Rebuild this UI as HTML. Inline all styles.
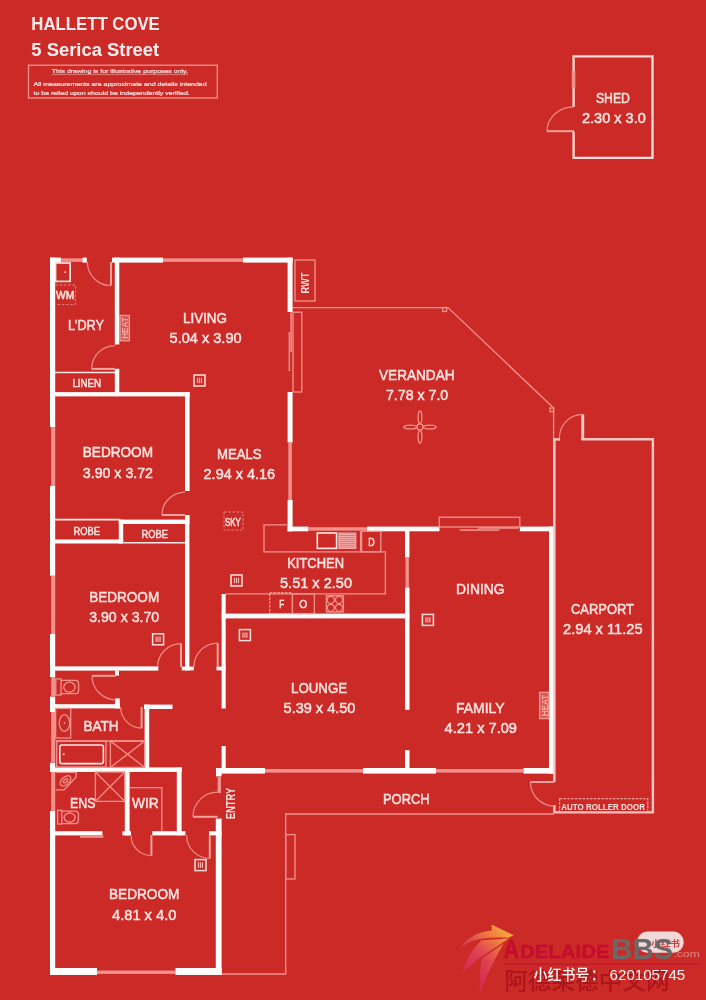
<!DOCTYPE html>
<html lang="en"><head><meta charset="utf-8"><title>Floor plan - 5 Serica Street, Hallett Cove</title>
<style>
html,body{margin:0;padding:0;background:#cb2a27;}
body{width:706px;height:1000px;overflow:hidden;position:relative;font-family:"Liberation Sans","Noto Sans CJK SC",sans-serif;}
svg{position:absolute;left:0;top:0;display:block;}
text{font-family:"Liberation Sans","Noto Sans CJK SC",sans-serif;text-anchor:middle;}
.w{fill:#fffdfc;}
.wn{fill:#f3918c;}
.t{fill:none;stroke:#f4938e;stroke-width:1.3;}
.t2{fill:none;stroke:#fde9e7;stroke-width:1.6;}
.k{fill:none;stroke:#fbdcd9;stroke-width:2.3;stroke-linejoin:miter;}
.c{fill:none;stroke:#f8c6c2;stroke-width:2.4;}
.c2{fill:none;stroke:#f8c6c2;stroke-width:3;}
.dr{fill:#e0605c;stroke:#f6b9b5;stroke-width:1;}
.ds2{fill:none;stroke:#f6b9b5;stroke-width:1.1;stroke-dasharray:2.6 1.2;}
.ds{fill:none;stroke:#e9807c;stroke-width:1;stroke-dasharray:2.6 1.6;}
.dl{fill:none;stroke:#f5a29d;stroke-width:2;}
.da{fill:none;stroke:#f28a85;stroke-width:1.25;}
.v{fill:none;stroke:#fbe0dd;stroke-width:1.5;}
.vi{fill:none;stroke:#f6b4b0;stroke-width:1.2;}
.ul{stroke:#f6c4c0;stroke-width:0.6;}
.lb{fill:#fde3e0;stroke:#fde3e0;stroke-width:0.5;}
.lbb{fill:#fce6e4;font-weight:bold;}
.lbs{fill:#fce6e4;stroke:#fce6e4;stroke-width:0.35;}
.hb{fill:#f0a6a3;stroke:none;}
.ht{fill:#b3191f;font-weight:bold;}
.hb2{fill:rgba(244,150,145,0.42);stroke:#f49a95;stroke-width:1.3;}
.ht2{fill:#f7aca8;font-weight:bold;}
.hd{fill:#fdeeed;font-weight:bold;}
.sm{fill:#fbdcd9;stroke:#fbdcd9;stroke-width:0.22;}
.sw{fill:url(#g1);stroke:none;}
.ad{fill:#c40f2f;stroke:#c40f2f;stroke-width:0.45;font-weight:bold;}
.adl{stroke:#c3112e;stroke-width:1;}
.bbs{fill:#6b6768;font-weight:bold;}
.com{fill:#dd8a88;}
.pill{fill:#f1d9d8;stroke:none;}
.xh{fill:#d8403c;font-weight:bold;}
.cn{fill:#ab141b;font-weight:500;}
.xhs{fill:#fff4f3;font-weight:500;}
</style></head>
<body>
<svg width="706" height="1000" viewBox="0 0 706 1000">
<defs><filter id="soft" filterUnits="userSpaceOnUse" x="0" y="0" width="706" height="1000"><feGaussianBlur stdDeviation="0.45"/></filter></defs>
<rect x="0" y="0" width="706" height="1000" fill="#cb2a27"/>
<g filter="url(#soft)">
<g id="header">
<text class="hd" x="95.55" y="30.3" font-size="17.6" textLength="128.5" lengthAdjust="spacingAndGlyphs">HALLETT COVE</text>
<text class="hd" x="95.25" y="56.2" font-size="17.6" textLength="127.9" lengthAdjust="spacingAndGlyphs">5 Serica Street</text>
<rect class="t" x="28.5" y="65.2" width="188.8" height="32.8" />
<text class="sm" x="119.9" y="73.1" font-size="5.8" textLength="136.2" lengthAdjust="spacingAndGlyphs">This drawing is for illustrative purposes only.</text>
<line class="ul" x1="51.8" y1="74.3" x2="188" y2="74.3"/>
<text class="sm" x="120.05" y="85.9" font-size="5.8" textLength="173.1" lengthAdjust="spacingAndGlyphs">All measurements are approximate and details intended</text>
<text class="sm" x="111.65" y="95.1" font-size="5.8" textLength="156.3" lengthAdjust="spacingAndGlyphs">to be relied upon should be independently verified.</text>
</g>
<g id="shed">
<path class="k" d="M573.6 107V56.4H652.5V157.9H573.6V131.4"/>
<rect class="wn" x="571.85" y="70.8" width="3.5" height="17.6" />
<path class="dl" d="M574 131.2H547"/>
<path class="da" d="M547 131.2A26.6 24.4 0 0 1 573.6 106.8"/>
<text class="lb" x="612.9" y="103.3" font-size="15.4" textLength="34.0" lengthAdjust="spacingAndGlyphs">SHED</text>
<text class="lb" x="613.9" y="123.2" font-size="15.4" textLength="63.8" lengthAdjust="spacingAndGlyphs">2.30 x 3.0</text>
</g>
<g id="walls">
<rect class="w" x="50" y="257.6" width="5.2" height="169.4"/>
<rect class="w" x="50" y="486" width="5.2" height="89.8"/>
<rect class="w" x="50" y="634" width="5.2" height="43"/>
<rect class="w" x="50" y="696.6" width="5.2" height="15.4"/>
<rect class="w" x="50" y="762.8" width="5.2" height="9.2"/>
<rect class="w" x="50" y="811" width="5.2" height="164"/>
<rect class="wn" x="51.2" y="427" width="4.0" height="59" />
<rect class="wn" x="51.2" y="575.8" width="4.0" height="58.2" />
<rect class="wn" x="51.2" y="677" width="4.0" height="19.6" />
<rect class="wn" x="51.2" y="712" width="4.0" height="50.8" />
<rect class="wn" x="51.2" y="772" width="4.0" height="39" />
<rect class="w" x="50" y="257.6" width="11.2" height="5.0"/>
<rect class="wn" x="61.2" y="258.35" width="21.3" height="3.5" />
<rect class="w" x="82.5" y="257.6" width="4.3" height="5.0"/>
<rect class="w" x="112" y="257.6" width="51" height="5.0"/>
<rect class="wn" x="163" y="258.35" width="80" height="3.5" />
<rect class="w" x="243" y="257.6" width="49.6" height="5.0"/>
<rect class="w" x="114.8" y="257.6" width="4.5" height="86.9"/>
<rect class="w" x="114.8" y="368.8" width="4.5" height="27.4"/>
<line class="t2" x1="55" y1="372.5" x2="115" y2="372.5"/>
<rect class="w" x="50" y="392.1" width="139.6" height="4.3"/>
<rect class="w" x="185" y="392.1" width="4.6" height="98.9"/>
<rect class="w" x="185" y="515" width="4.6" height="5"/>
<rect class="w" x="287.6" y="257.6" width="5.0" height="54.4"/>
<rect class="w" x="287.6" y="392" width="5.0" height="50.5"/>
<rect class="wn" x="288.35" y="442.5" width="3.5" height="57.5" />
<rect class="w" x="287.6" y="500" width="5.0" height="31.3"/>
<rect class="w" x="287.6" y="526.6" width="20.9" height="4.7"/>
<rect class="wn" x="308.5" y="527.25" width="58.5" height="3.4" />
<rect class="w" x="367" y="526.6" width="72.5" height="4.7"/>
<rect class="w" x="519.8" y="526.6" width="34.9" height="4.7"/>
<line class="t2" x1="55" y1="519.6" x2="120" y2="519.6"/>
<rect class="w" x="118.8" y="519.6" width="4.4" height="23.9"/>
<rect class="w" x="50" y="539.5" width="73.2" height="4.0"/>
<rect class="w" x="118.8" y="519.6" width="70.6" height="4.4"/>
<line class="t2" x1="123.5" y1="542.8" x2="185" y2="542.8"/>
<rect class="w" x="185" y="519.6" width="4.4" height="150.8"/>
<rect class="w" x="50" y="666.4" width="108.4" height="4.2"/>
<rect class="w" x="181.8" y="666.6" width="12.0" height="3.8"/>
<rect class="w" x="216.5" y="666.6" width="9.2" height="3.8"/>
<rect class="w" x="221.6" y="594" width="4.1" height="114.5"/>
<rect class="w" x="221.6" y="746" width="4.1" height="22"/>
<rect class="w" x="221.8" y="613.6" width="187.6" height="4.8"/>
<rect class="w" x="405" y="531" width="4.4" height="26.5"/>
<rect class="wn" x="405.5" y="557.5" width="3.4" height="30.0" />
<rect class="w" x="405" y="587.5" width="4.5" height="122.3"/>
<rect class="w" x="405" y="750.2" width="4.5" height="17.8"/>
<rect class="w" x="549" y="526.6" width="5.7" height="247.0"/>
<rect class="w" x="216" y="768" width="49" height="5.6"/>
<rect class="wn" x="265" y="769.0" width="98" height="3.6" />
<rect class="w" x="363" y="768" width="73" height="5.6"/>
<rect class="wn" x="436" y="769.0" width="87" height="3.6" />
<rect class="w" x="523.5" y="768" width="31.2" height="5.6"/>
<rect class="w" x="115" y="670.4" width="4" height="5.2"/>
<rect class="w" x="50" y="704.2" width="70" height="4.2"/>
<rect class="w" x="115" y="698.4" width="4.8" height="10.0"/>
<rect class="w" x="144" y="704.6" width="28.5" height="4.4"/>
<rect class="w" x="144.6" y="704.6" width="4.6" height="67.4"/>
<rect class="w" x="50" y="767.4" width="132" height="4.6"/>
<rect class="w" x="124.8" y="772" width="4.8" height="63.4"/>
<rect class="w" x="176.8" y="767.4" width="4.8" height="68.0"/>
<rect class="w" x="50" y="831.2" width="52.4" height="4.2"/>
<rect class="w" x="122.5" y="831.2" width="8.5" height="4.2"/>
<rect class="w" x="152.3" y="831.2" width="33.1" height="4.2"/>
<rect class="w" x="209" y="831.2" width="12.6" height="4.2"/>
<rect class="w" x="215.8" y="818.6" width="5.8" height="156.4"/>
<rect class="w" x="50" y="968" width="47" height="7"/>
<rect class="wn" x="97" y="970.5" width="78.5" height="3.4" />
<rect class="w" x="175.5" y="968" width="46.1" height="7"/>
<rect class="w" x="216" y="768" width="5.6" height="8.4"/>
</g>
<g id="thin">
<rect class="t2" x="55.6" y="263" width="14.6" height="18.4" />
<circle cx="65.2" cy="272.2" r="0.9" fill="#fbe0de"/>
<path class="ds" d="M55.5 285H75.4V304.6H55.5"/>
<path class="dl" d="M111 262L111.0 285.6"/>
<path class="da" d="M111.0 285.6A23.6 23.6 0 0 1 87.4 262.0"/>
<path class="dl" d="M115 368.9L91.6 368.9"/>
<path class="da" d="M91.6 368.9A23.4 23.4 0 0 1 115.0 345.5"/>
<rect class="hb2" x="120" y="315.4" width="9.4" height="25.4" />
<rect class="t" x="295" y="260" width="20" height="41" />
<rect class="v" x="194" y="375" width="11" height="11" />
<line class="vi" x1="197.52" y1="377.8" x2="197.52" y2="383.2"/>
<line class="vi" x1="199.5" y1="377.8" x2="199.5" y2="383.2"/>
<line class="vi" x1="201.48" y1="377.8" x2="201.48" y2="383.2"/>
<rect class="t" x="293" y="312.2" width="8.8" height="79.8" />
<rect class="wn" x="290.4" y="312.2" width="1.5" height="39.8" />
<rect class="wn" x="288.6" y="332" width="1.5" height="39" />
<path class="t" d="M292.6 307.6H448L553.6 408V527"/>
<rect class="t" x="442.6" y="307.5" width="4.0" height="4.0" />
<rect class="t" x="550" y="408" width="3.6" height="3.6" />
<g class="t" transform="translate(420 427)"><circle r="3.1"/><ellipse cx="0" cy="-9.7" rx="1.9" ry="6.5"/><ellipse cx="0" cy="9.7" rx="1.9" ry="6.5"/><ellipse cx="-9.7" cy="0" rx="6.5" ry="1.9"/><ellipse cx="9.7" cy="0" rx="6.5" ry="1.9"/></g>
<path class="c" d="M554.4 782V438M581.4 439.2H652.9V812.4H554.4V805"/>
<line class="c" x1="553.2" y1="439.4" x2="560" y2="439.4"/>
<line class="c2" x1="582.7" y1="414.3" x2="582.7" y2="440"/>
<path class="da" d="M582.7 414.3A23.3 23.6 0 0 0 559.4 438.2"/>
<path class="dl" d="M554.4 782L530.4 782"/>
<path class="da" d="M530.4 782A24 24 0 0 0 554.4 806"/>
<rect class="ds2" x="559.6" y="798.8" width="88.2" height="13.6" />
<path class="t" d="M221.6 974H285.7V814H554"/>
<rect class="t" x="285.7" y="834.6" width="9.3" height="44.4" />
<rect class="t" x="439.3" y="517.2" width="80.5" height="9.8" />
<rect class="wn" x="459.7" y="529.3" width="39.7" height="1.6" />
<rect class="wn" x="477.8" y="527.2" width="40.8" height="1.6" />
<path class="dl" d="M185 515L162 515"/>
<path class="da" d="M162 515A23 23 0 0 1 185 492"/>
<rect class="ds" x="224" y="512" width="19" height="18" />
<path class="t" d="M288 524.9H264V551.8H385.4V593.8H225.8"/>
<rect class="t" x="361.6" y="531.3" width="19.2" height="20.5" />
<rect class="t2" x="317.3" y="533" width="19.3" height="15.4" />
<rect class="dr" x="338.9" y="533" width="16.9" height="15.4" />
<line class="vi" x1="339" y1="534.6" x2="355.8" y2="534.6"/>
<line class="vi" x1="339" y1="536.65" x2="355.8" y2="536.65"/>
<line class="vi" x1="339" y1="538.7" x2="355.8" y2="538.7"/>
<line class="vi" x1="339" y1="540.75" x2="355.8" y2="540.75"/>
<line class="vi" x1="339" y1="542.8" x2="355.8" y2="542.8"/>
<line class="vi" x1="339" y1="544.85" x2="355.8" y2="544.85"/>
<line class="vi" x1="339" y1="546.9" x2="355.8" y2="546.9"/>
<line class="t" x1="360.6" y1="531.3" x2="360.6" y2="551.6"/>
<rect class="ds2" x="269.7" y="592.8" width="22.7" height="20.8" />
<rect class="t" x="292.4" y="593.8" width="22.0" height="19.8" />
<rect class="t" x="326.4" y="595.7" width="17.0" height="16.3" />
<circle class="t" cx="330.8" cy="599.9" r="3.5"/>
<circle class="t" cx="339" cy="599.9" r="3.5"/>
<circle class="t" cx="330.8" cy="607.8" r="3.5"/>
<circle class="t" cx="339" cy="607.8" r="3.5"/>
<rect class="v" x="231" y="575" width="11" height="11" />
<line class="vi" x1="234.52" y1="577.8" x2="234.52" y2="583.2"/>
<line class="vi" x1="236.5" y1="577.8" x2="236.5" y2="583.2"/>
<line class="vi" x1="238.48" y1="577.8" x2="238.48" y2="583.2"/>
<rect class="v" x="239.4" y="629.6" width="11.0" height="11.0" />
<line class="vi" x1="242.92" y1="632.4" x2="242.92" y2="637.8"/>
<line class="vi" x1="244.9" y1="632.4" x2="244.9" y2="637.8"/>
<line class="vi" x1="246.88" y1="632.4" x2="246.88" y2="637.8"/>
<rect class="v" x="152.6" y="633.8" width="11.0" height="11.0" />
<line class="vi" x1="156.12" y1="636.6" x2="156.12" y2="642.0"/>
<line class="vi" x1="158.1" y1="636.6" x2="158.1" y2="642.0"/>
<line class="vi" x1="160.08" y1="636.6" x2="160.08" y2="642.0"/>
<rect class="v" x="422.4" y="614.4" width="11.0" height="11.0" />
<line class="vi" x1="425.92" y1="617.2" x2="425.92" y2="622.6"/>
<line class="vi" x1="427.9" y1="617.2" x2="427.9" y2="622.6"/>
<line class="vi" x1="429.88" y1="617.2" x2="429.88" y2="622.6"/>
<rect class="v" x="195" y="859.6" width="11" height="11.0" />
<line class="vi" x1="198.52" y1="862.4" x2="198.52" y2="867.8"/>
<line class="vi" x1="200.5" y1="862.4" x2="200.5" y2="867.8"/>
<line class="vi" x1="202.48" y1="862.4" x2="202.48" y2="867.8"/>
<rect class="hb2" x="539.6" y="692.4" width="9.4" height="26.2" />
<path class="dl" d="M181 667L181.0 643.6"/>
<path class="da" d="M181.0 643.6A23.4 23.4 0 0 0 157.6 667.0"/>
<path class="dl" d="M217.7 667L217.7 643.2"/>
<path class="da" d="M217.7 643.2A23.8 23.8 0 0 0 193.9 667.0"/>
<rect class="t" x="55.8" y="678.9" width="5.2" height="16.2" />
<path class="t" d="M61 680.3H75.4Q78.6 680.3 78.6 683.5V690.5Q78.6 693.7 75.4 693.7H61"/>
<ellipse class="t" cx="69.4" cy="687.2" rx="5.7" ry="5"/>
<path class="dl" d="M116 675.8L92 675.8"/>
<path class="da" d="M92 675.8A24 24 0 0 0 116 699.8"/>
<path class="dl" d="M141.6 707L141.6 728"/>
<path class="da" d="M141.6 728A21 21 0 0 1 120.6 707"/>
<rect class="t" x="55.6" y="708.4" width="15.1" height="29.6" />
<ellipse class="t" cx="64.5" cy="723" rx="5.2" ry="8.4"/>
<circle cx="64.5" cy="723" r="0.8" fill="#fbe0de"/>
<line class="t" x1="55.6" y1="741" x2="145" y2="741"/>
<rect class="t" x="56.7" y="741" width="49.3" height="26" />
<rect class="t2" x="59.8" y="745" width="43.6" height="18.6" rx="2"/>
<circle cx="63.7" cy="754.3" r="1" fill="#fbe0de"/>
<rect class="t" x="110.4" y="741" width="34.3" height="26.4" />
<path class="t" d="M110.4 741L144.7 767.4M144.7 741L110.4 767.4"/>
<path class="t" d="M55.6 772.3H76.2V777L64.1 789.9H55.6"/>
<ellipse class="t" cx="65.5" cy="780.8" rx="6.3" ry="3.8" transform="rotate(-42 65.5 780.8)"/>
<ellipse class="t" cx="65.5" cy="780.8" rx="2.6" ry="1.4" transform="rotate(-42 65.5 780.8)"/>
<rect class="t" x="57.6" y="810.3" width="4.2" height="13.7" />
<path class="t" d="M61.8 811.2H75.4Q78.4 811.2 78.4 814.2V820.6Q78.4 823.6 75.4 823.6H61.8"/>
<ellipse class="t" cx="69.6" cy="817.6" rx="5.5" ry="4.6"/>
<rect class="t" x="95.4" y="772" width="29.4" height="29.4" />
<path class="t" d="M95.4 772L124.8 801.4M124.8 772L95.4 801.4"/>
<rect class="wn" x="80" y="835.4" width="23.4" height="2.4" />
<path class="t" d="M129.6 787.6H161.8V831.2"/>
<path class="dl" d="M151.4 835.2L151.4 855.6"/>
<path class="da" d="M151.4 855.6A20.4 20.4 0 0 1 131.0 835.2"/>
<path class="dl" d="M209.8 835.2L209.8 858.4"/>
<path class="da" d="M209.8 858.4A23.2 23.2 0 0 1 186.6 835.2"/>
<rect class="wn" x="217.6" y="776.4" width="3.4" height="16.6" />
<path class="dl" d="M217.6 816.8L193.0 816.8"/>
<path class="da" d="M193.0 816.8A24.6 24.6 0 0 1 217.6 792.2"/>
</g>
<g id="labels">
<text class="lb" x="65.1" y="298.7" font-size="10.2" textLength="18.2" lengthAdjust="spacingAndGlyphs">WM</text>
<text class="lb" x="86.0" y="330.3" font-size="15.4" textLength="36" lengthAdjust="spacingAndGlyphs">L&#39;DRY</text>
<text class="lb" x="86.7" y="386.9" font-size="10.8" textLength="28.6" lengthAdjust="spacingAndGlyphs">LINEN</text>
<text class="ht2" transform="translate(128 328.1) rotate(-90)" x="0" y="0" font-size="9.2" textLength="21.5" lengthAdjust="spacingAndGlyphs">HEAT</text>
<text class="lbb" transform="translate(309.2 283) rotate(-90)" x="0" y="0" font-size="10.4" textLength="21" lengthAdjust="spacingAndGlyphs">RWT</text>
<text class="lb" x="205.0" y="322.9" font-size="15.4" textLength="44" lengthAdjust="spacingAndGlyphs">LIVING</text>
<text class="lb" x="205.6" y="343.1" font-size="15.4" textLength="72.0" lengthAdjust="spacingAndGlyphs">5.04 x 3.90</text>
<text class="lb" x="117.9" y="457.3" font-size="15.4" textLength="70.2" lengthAdjust="spacingAndGlyphs">BEDROOM</text>
<text class="lb" x="117.9" y="477.5" font-size="15.4" textLength="70.2" lengthAdjust="spacingAndGlyphs">3.90 x 3.72</text>
<text class="lb" x="239.3" y="458.9" font-size="15.4" textLength="44.6" lengthAdjust="spacingAndGlyphs">MEALS</text>
<text class="lb" x="239.3" y="478.9" font-size="15.4" textLength="71.4" lengthAdjust="spacingAndGlyphs">2.94 x 4.16</text>
<text class="lb" x="416.8" y="379.9" font-size="15.4" textLength="75.6" lengthAdjust="spacingAndGlyphs">VERANDAH</text>
<text class="lb" x="417.1" y="399.9" font-size="15.4" textLength="62.2" lengthAdjust="spacingAndGlyphs">7.78 x 7.0</text>
<text class="lb" x="86.7" y="534.5" font-size="10.8" textLength="26.6" lengthAdjust="spacingAndGlyphs">ROBE</text>
<text class="lb" x="154.75" y="538.3" font-size="10.8" textLength="26.5" lengthAdjust="spacingAndGlyphs">ROBE</text>
<text class="lb" x="124.2" y="602.3" font-size="15.4" textLength="70.0" lengthAdjust="spacingAndGlyphs">BEDROOM</text>
<text class="lb" x="124.2" y="622.3" font-size="15.4" textLength="70.0" lengthAdjust="spacingAndGlyphs">3.90 x 3.70</text>
<text class="lb" x="232.9" y="525.7" font-size="10.2" textLength="15.8" lengthAdjust="spacingAndGlyphs">SKY</text>
<text class="lb" x="315.6" y="567.9" font-size="15.4" textLength="56.8" lengthAdjust="spacingAndGlyphs">KITCHEN</text>
<text class="lb" x="316.0" y="588.1" font-size="15.4" textLength="72" lengthAdjust="spacingAndGlyphs">5.51 x 2.50</text>
<text class="lb" x="281.7" y="607.9" font-size="11" textLength="5.0" lengthAdjust="spacingAndGlyphs">F</text>
<text class="lb" x="303.2" y="607.9" font-size="11" textLength="8.0" lengthAdjust="spacingAndGlyphs">O</text>
<text class="lb" x="371.4" y="546.1" font-size="10.6" textLength="6.4" lengthAdjust="spacingAndGlyphs">D</text>
<text class="lb" x="319.1" y="692.9" font-size="15.4" textLength="56.2" lengthAdjust="spacingAndGlyphs">LOUNGE</text>
<text class="lb" x="319.5" y="713.1" font-size="15.4" textLength="71.8" lengthAdjust="spacingAndGlyphs">5.39 x 4.50</text>
<text class="lb" x="480.3" y="594.3" font-size="15.4" textLength="48.6" lengthAdjust="spacingAndGlyphs">DINING</text>
<text class="lb" x="480.3" y="712.9" font-size="15.4" textLength="48.6" lengthAdjust="spacingAndGlyphs">FAMILY</text>
<text class="lb" x="480.8" y="733.1" font-size="15.4" textLength="72.4" lengthAdjust="spacingAndGlyphs">4.21 x 7.09</text>
<text class="lb" x="602.5" y="613.9" font-size="15.4" textLength="63" lengthAdjust="spacingAndGlyphs">CARPORT</text>
<text class="lb" x="602.8" y="634.3" font-size="15.4" textLength="79.6" lengthAdjust="spacingAndGlyphs">2.94 x 11.25</text>
<text class="ht2" transform="translate(547.6 705.5) rotate(-90)" x="0" y="0" font-size="9.2" textLength="21.5" lengthAdjust="spacingAndGlyphs">HEAT</text>
<text class="lb" x="100.95" y="731.1" font-size="15.4" textLength="35.1" lengthAdjust="spacingAndGlyphs">BATH</text>
<text class="lb" x="82.8" y="807.7" font-size="15.4" textLength="25.6" lengthAdjust="spacingAndGlyphs">ENS</text>
<text class="lb" x="145.35" y="807.7" font-size="15.4" textLength="26.7" lengthAdjust="spacingAndGlyphs">WIR</text>
<text class="lbb" transform="translate(235.2 803.6) rotate(-90)" x="0" y="0" font-size="12.6" textLength="31.5" lengthAdjust="spacingAndGlyphs">ENTRY</text>
<text class="lb" x="144.2" y="899.3" font-size="15.4" textLength="70.4" lengthAdjust="spacingAndGlyphs">BEDROOM</text>
<text class="lb" x="144.2" y="919.5" font-size="15.4" textLength="64.4" lengthAdjust="spacingAndGlyphs">4.81 x 4.0</text>
<text class="lb" x="406.3" y="804.3" font-size="15.4" textLength="46.6" lengthAdjust="spacingAndGlyphs">PORCH</text>
<text class="lbb" x="603.15" y="809.8" font-size="8.8" textLength="83.7" lengthAdjust="spacingAndGlyphs">AUTO ROLLER DOOR</text>
</g>
<g id="wm">
<defs>
<linearGradient id="g1" gradientUnits="userSpaceOnUse" x1="513" y1="934" x2="463" y2="984"><stop offset="0" stop-color="#f6ad3c"/><stop offset="0.22" stop-color="#f0803e"/><stop offset="0.5" stop-color="#e04552"/><stop offset="0.8" stop-color="#d82f58" stop-opacity="0.85"/><stop offset="1" stop-color="#d42a50" stop-opacity="0.5"/></linearGradient>
</defs>
<path class="sw" d="M491.7 924.4L513.5 935.3L508.5 937.7Q486 936.4 474 940.4Q465 943.6 459.6 949Q467 937 481 932.6Q486.6 930.9 491.7 930.6Z"/>
<path class="sw" d="M509 938.4L481.4 940.2Q467 953.6 461.6 975.6Q472.6 962 484 955Z"/>
<path class="sw" d="M503.6 943.8L481.8 958.6Q478.6 975 480 994.4Q486 974 503.6 943.8Z"/>
<text class="ad" x="511.2" y="958.3" font-size="25.4" textLength="15.6" lengthAdjust="spacingAndGlyphs">A</text>
<text class="ad" x="564.75" y="958.3" font-size="18" textLength="89.5" lengthAdjust="spacingAndGlyphs">DELAIDE</text>
<rect class="pill" x="637" y="931.6" width="46.8" height="21.2" rx="10.6"/>
<text class="xh" x="665.5" y="947.4" font-size="9.6" textLength="29" lengthAdjust="spacingAndGlyphs">小红书</text>
<text class="bbs" x="642.2" y="958.6" font-size="28.8" textLength="62.0" lengthAdjust="spacingAndGlyphs">BBS</text>
<text class="com" x="686.6" y="957.4" font-size="8.6" textLength="26.4" lengthAdjust="spacingAndGlyphs">.com</text>
<line class="adl" x1="503.4" y1="964.2" x2="700" y2="964.2"/>
<text class="cn" x="587.0" y="988.6" font-size="22.4" textLength="165.2" lengthAdjust="spacingAndGlyphs">阿德莱德中文网</text>
<text class="xhs" x="561.5" y="979.6" font-size="14.4" textLength="55.8" lengthAdjust="spacingAndGlyphs">小红书号</text>
<text class="xhs" x="598.0" y="979.6" font-size="14.4">：</text>
<text class="xhs" x="647.4" y="980.4" font-size="15" textLength="75.6" lengthAdjust="spacingAndGlyphs">620105745</text>
</g>
</g>
</svg>
</body></html>
